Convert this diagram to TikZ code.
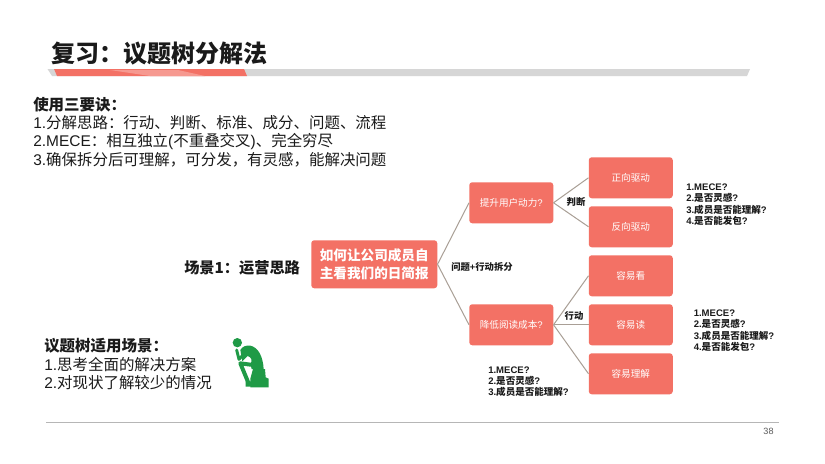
\documentclass[tikz,border=0pt]{standalone}
\usepackage{fontspec}
\setmainfont{Noto Sans CJK SC}
\newfontfamily\latinf{Liberation Sans}
\definecolor{coral}{HTML}{F37165}
\definecolor{linkc}{HTML}{A99F96}
\definecolor{barg}{HTML}{D6D6D6}
\definecolor{iconc}{HTML}{1F9A46}
\definecolor{ink}{HTML}{1A1A1A}
\tikzset{
  x=0.75pt,y=-0.75pt,
  box/.style={fill=coral,rounded corners=2.2pt,inner sep=0pt,anchor=north west,text=white,font=\fontsize{7.2}{9}\selectfont,align=center},
  link/.style={draw=linkc,line width=0.75pt},
  lab/.style={inner sep=0pt,text=ink,font=\fontsize{7}{9}\selectfont\bfseries},
  note/.style={inner sep=0pt,anchor=west,text=ink,font=\fontsize{7.15}{8}\selectfont\bfseries},
  body/.style={inner sep=0pt,anchor=west,text=ink,font=\fontsize{11.6}{13}\selectfont},
  bodyb/.style={inner sep=0pt,anchor=west,text=ink,font=\fontsize{11.6}{13}\selectfont\bfseries},
}
\newcommand{\bx}[6]{\node[box,minimum width=#4*0.75pt,minimum height=#5*0.75pt] (#1) at (#2,#3) {#6};}
\newcommand{\lt}[1]{{\latinf\bfseries #1}}
\begin{document}
\begin{tikzpicture}
\useasboundingbox (0,0) rectangle (825,464);
\fill[white] (0,0) rectangle (825,464);
% title
\node[inner sep=0pt,anchor=west,text=ink,font=\fontsize{18}{20}\selectfont\bfseries] (title) at (51.5,53.5) {复习：议题树分解法};
\fill[barg] (47.5,69) -- (750,69) -- (747,76) -- (52,76) -- cycle;
\fill[coral] (54,69) -- (244,69) -- (247,76) -- (57,76) -- cycle;
\fill[coral!72!white] (110,70) -- (178,70) -- (205,76) -- (150,76) -- cycle;
% left texts
\node[bodyb] (t1) at (33,104.5) {使用三要诀：};
\node[body] (t2) at (33,122.5) {{\latinf 1.}分解思路：行动、判断、标准、成分、问题、流程};
\node[body] (t3) at (33,141.5) {{\latinf 2.MECE}：相互独立{\latinf (}不重叠交叉{\latinf )}、完全穷尽};
\node[body] (t4) at (33,160) {{\latinf 3.}确保拆分后可理解，可分发，有灵感，能解决问题};
\node[inner sep=0pt,anchor=west,text=ink,font=\fontsize{11.4}{13}\selectfont\bfseries] (scene) at (184,268) {场景1：运营思路};
\node[bodyb] (t5) at (44,346) {议题树适用场景：};
\node[body] (t6) at (44,364.5) {{\latinf 1.}思考全面的解决方案};
\node[body] (t7) at (44,383) {{\latinf 2.}对现状了解较少的情况};
% tree
\node[box,minimum width=94.5pt,minimum height=36pt,font=\fontsize{10.2}{13.2}\selectfont\bfseries] (root) at (311,240) {如何让公司成员自\\主看我们的日简报};
\bx{a}{469}{182}{84}{41}{提升用户动力{\latinf ?}}
\bx{b}{469}{304}{84}{41}{降低阅读成本{\latinf ?}}
\bx{a1}{588.5}{157}{84}{41}{正向驱动}
\bx{a2}{588.5}{206}{84}{41}{反向驱动}
\bx{b1}{588.5}{255}{84}{41}{容易看}
\bx{b2}{588.5}{304}{84}{41}{容易读}
\bx{b3}{588.5}{353}{84}{41}{容易理解}
\draw[link] (root.east) -- (a.west);
\draw[link] (root.east) -- (b.west);
\draw[link] (a.east) -- (a1.west);
\draw[link] (a.east) -- (a2.west);
\draw[link] (b.east) -- (b1.west);
\draw[link] (b.east) -- (b2.west);
\draw[link] (b.east) -- (b3.west);
\node[lab] (l1) at (576,202) {判断};
\node[lab] (l2) at (482,267) {问题\lt{+}行动拆分};
\node[lab] (l3) at (574,316) {行动};
% notes
\node[note] (n1) at (686,187) {\lt{1.MECE?}};
\node[note] (n2) at (686,198) {\lt{2.}是否灵感\lt{?}};
\node[note] (n3) at (686,209.5) {\lt{3.}成员是否能理解\lt{?}};
\node[note] (n4) at (686,221) {\lt{4.}是否能发包\lt{?}};
\node[note] (m1) at (693.5,313) {\lt{1.MECE?}};
\node[note] (m2) at (693.5,324) {\lt{2.}是否灵感\lt{?}};
\node[note] (m3) at (693.5,335.5) {\lt{3.}成员是否能理解\lt{?}};
\node[note] (m4) at (693.5,347) {\lt{4.}是否能发包\lt{?}};
\node[note] (k1) at (488,370) {\lt{1.MECE?}};
\node[note] (k2) at (488,381) {\lt{2.}是否灵感\lt{?}};
\node[note] (k3) at (488,392) {\lt{3.}成员是否能理解\lt{?}};
% footer
\draw[draw=barg!85!black,line width=0.7pt] (46,422) -- (779,422);
\node[inner sep=0pt,text=black!65,font=\latinf\fontsize{6.8}{8}\selectfont] (pg) at (768.5,431) {38};
% icon
\begin{scope}[shift={(225,330)},x=0.25pt,y=-0.25pt]
\fill[iconc] (37,38) circle[radius=14];
\fill[iconc] (46,60) .. controls (52,50) and (62,45) .. (76,47) .. controls (100,52) and (114,80) .. (116,117) -- (80,117) -- (76,102) .. controls (84,92) and (78,80) .. (68,78) -- (52,94) -- cycle;
\draw[iconc,line width=2.2pt,line cap=round,line join=round] (62,66) -- (42,88) -- (35,60);
\draw[iconc,line width=3pt,line cap=round,line join=round] (92,106) -- (46,100) -- (70,158);
\fill[iconc] (62,154) -- (78,154) -- (82,170) -- (62,170) -- cycle;
\fill[iconc] (84,117) -- (120,117) -- (122,142) -- (131,146) -- (131,172) -- (76,172) -- (76,146) -- cycle;
\end{scope}
\end{tikzpicture}
\end{document}
